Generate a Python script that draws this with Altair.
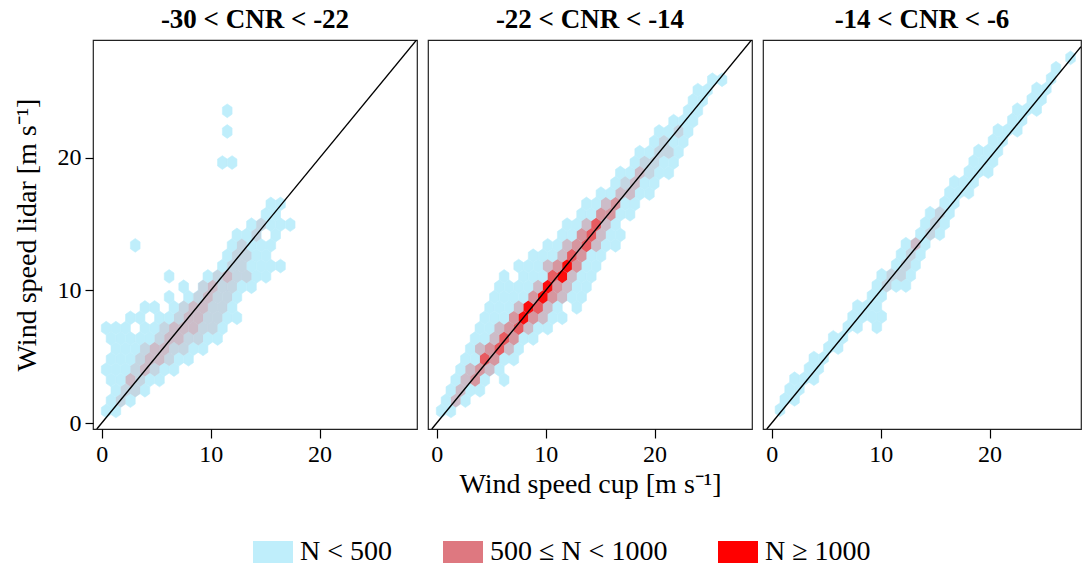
import altair as alt
import pandas as pd

# ---------------- data ----------------
PANEL_TITLES = ["-30 < CNR < -22", "-22 < CNR < -14", "-14 < CNR < -6"]
X_TITLE = "Wind speed cup [m s\u207b\u00b9]"
Y_TITLE = "Wind speed lidar [m s\u207b\u00b9]"
TICKS = [0, 10, 20]

CLASS_LABELS = ["N < 500", "500 \u2264 N < 1000", "N \u2265 1000"]
CLASS_COLORS = ["#BFEEFB", "#DE7880", "#FF0000"]

# hexagon lattice: column spacing / row spacing in m s-1
HEX_DX = 0.889
HEX_DY = 0.781
# lattice origin per panel (x of column 0 on even rows, y of row 0)
ORIGIN_X = [0.41, 0.41, 0.76]
ORIGIN_Y = [0.91, 0.91, 1.0]

# cell shade codes: b = N<500 only; 1-3 = increasing 500<=N<1000; 4-5 = N>=1000
SHADE_CLASS = {"b": 0, "1": 1, "2": 1, "3": 1, "4": 2, "5": 2}
SHADE_ALPHA = {"b": 1.0, "1": 0.2, "2": 0.42, "3": 0.75, "4": 0.62, "5": 0.95}

# rows: (row index, first column index, cells)  '.' = empty
P1_ROWS = [
    (0, 0, "bb"), (1, 0, "b1b"), (2, 1, "b11b"), (3, 0, "bb21bb"),
    (4, 0, "bbb121bb"), (5, 0, "bbb1221bb"), (6, 1, "bbb12211bb"),
    (7, 0, "bbbbb12211bb"), (8, 0, "bbb.bb122211b"), (9, 2, "bb.bb12211bb"),
    (10, 4, "bb.b12211b"), (11, 6, "b.b1211b"), (12, 8, "b.1211bb"),
    (13, 6, "b...b1211bb"), (14, 12, "b11bbbb"), (15, 12, "b11bb"),
    (16, 3, "b.........b1bbb"), (17, 13, "bb1.b"), (18, 15, "b1bbb"),
    (19, 16, "bb"), (20, 17, "bb"), (24, 12, "bb"), (27, 12, "b"), (29, 12, "b"),
]
P2_ROWS = [
    (0, 0, "bb"), (1, 0, "b2b"), (2, 1, "b2bb"), (3, 1, "b23b.b"),
    (4, 2, "b232b"), (5, 2, "bb43bb"), (6, 3, "b2342b"), (7, 3, "bb243bb"),
    (8, 4, "bb2342bb"), (9, 4, "bbb3532bb"), (10, 5, "bbb2542b.b"),
    (11, 5, "bbbb3532bb"), (12, 6, "bbbb2532bb"), (13, 6, "b.bbb452bb"),
    (14, 8, "bbb2353bb"), (15, 9, "bbb243bb"), (16, 11, "bb2342bb"),
    (17, 12, "bb342bb"), (18, 13, "bb242b"), (19, 14, "bb33bb"),
    (20, 15, "bb23bb"), (21, 16, "bb22bb"), (22, 18, "b12bb"),
    (23, 18, "bb21bb"), (24, 20, "b11bb"), (25, 20, "bb11b"),
    (26, 22, "b1bb"), (27, 22, "bb1b"), (28, 24, "bbb"), (29, 25, "bb"),
    (30, 26, "bb"), (31, 26, "bb"), (32, 28, "bb"),
]
P3_ROWS = [
    (0, 0, "b"), (1, 0, "bb"), (2, 1, "bb"), (3, 1, "bbb"), (4, 3, "bb"),
    (5, 3, "bb"), (6, 5, "bb"), (7, 5, "bb"), (8, 7, "bb.b"), (9, 7, "bbbb"),
    (10, 8, "bbb"), (11, 9, "bb"), (12, 10, "b1bb"), (13, 10, "b11b"),
    (14, 12, "b1b"), (15, 12, "b1b"), (16, 13, "b2b"), (17, 14, "b1b"),
    (18, 15, "b1b"), (19, 15, "b1b"), (20, 17, "bb"), (21, 17, "bbb"),
    (22, 18, "bbb"), (23, 19, "bbb"), (24, 20, "bbb"), (25, 20, "bbb"),
    (26, 22, "bb"), (27, 22, "bbb"), (28, 24, "bb"), (29, 24, "bbb"),
    (30, 26, "bb"), (31, 26, "bb"), (32, 28, "b"), (33, 28, "b"), (34, 30, "b"),
]
PANEL_ROWS = [P1_ROWS, P2_ROWS, P3_ROWS]

# ---------------- layout ----------------
WIDTHS = [324, 324, 318]
HEIGHT = 389
PX_PER_X = 10.894
X_MIN = -0.8
Y_DOMAIN = [-0.45, 28.9]
FONT = "Liberation Serif"
HEX_SHAPE = "M0,-1L0.703,-0.5L0.703,0.5L0,1L-0.703,0.5L-0.703,-0.5Z"
HEX_SIZE = 190
RECT_SHAPE = "M-1,-0.55L1,-0.55L1,0.55L-1,0.55Z"


def cells(rows, x0, y0):
    out = []
    for r, start, pat in rows:
        for i, ch in enumerate(pat):
            if ch == ".":
                continue
            m = start + i
            out.append({
                "x": x0 + HEX_DX * m + (HEX_DX / 2 if r % 2 else 0.0),
                "y": y0 + HEX_DY * r,
                "cls": CLASS_LABELS[SHADE_CLASS[ch]],
                "alpha": SHADE_ALPHA[ch],
                "tint": ch != "b",
            })
    return pd.DataFrame(out)


def panel(i):
    df = cells(PANEL_ROWS[i], ORIGIN_X[i], ORIGIN_Y[i])
    tinted = df[df["tint"]].reset_index(drop=True)
    x_dom = [X_MIN, X_MIN + WIDTHS[i] / PX_PER_X]
    xs = alt.Scale(domain=x_dom, nice=False, zero=False)
    ys = alt.Scale(domain=Y_DOMAIN, nice=False, zero=False)
    xax = alt.Axis(values=TICKS, domain=False, grid=False, tickSize=9, tickWidth=1.2,
                   tickColor="black", labelFont=FONT, labelFontSize=24, labelColor="black",
                   labelPadding=4, titleFont=FONT, titleFontSize=28, titleFontWeight="normal",
                   titleColor="black", titlePadding=4)
    yax = alt.Axis(values=TICKS, domain=False, grid=False, tickSize=8, tickWidth=1.2,
                   tickColor="black", labelFont=FONT, labelFontSize=24, labelColor="black",
                   labelPadding=4, titleFont=FONT, titleFontSize=28,
                   titleFontWeight="normal", titleColor="black", titlePadding=16)
    if i == 0:
        yenc = alt.Y("y:Q", scale=ys, axis=yax, title=Y_TITLE)
        yline = alt.Y("v:Q", scale=ys, axis=yax, title=Y_TITLE)
    else:
        yenc = alt.Y("y:Q", scale=ys, axis=None)
        yline = alt.Y("v:Q", scale=ys, axis=None)
    if i == 1:
        xenc = alt.X("x:Q", scale=xs, axis=xax, title=X_TITLE)
        xline = alt.X("v:Q", scale=xs, axis=xax, title=X_TITLE)
    else:
        xenc = alt.X("x:Q", scale=xs, axis=xax, title=None)
        xline = alt.X("v:Q", scale=xs, axis=xax, title=None)

    base = alt.Chart(df).mark_point(
        shape=HEX_SHAPE, size=HEX_SIZE, filled=True, opacity=1,
        fill=CLASS_COLORS[0], stroke=CLASS_COLORS[0], strokeWidth=0.6, clip=True,
    ).encode(x=xenc, y=yenc)

    if i == 0:
        leg = alt.Legend(orient="none", legendX=160, legendY=492, direction="horizontal",
                         title=None, symbolType=RECT_SHAPE, symbolSize=1600,
                         symbolOpacity=1, symbolStrokeWidth=0, labelFont=FONT,
                         labelFontSize=28, labelColor="black", labelOffset=7,
                         labelLimit=500, columnPadding=50, columns=3, padding=0)
        col = alt.Color("cls:N", scale=alt.Scale(domain=CLASS_LABELS, range=CLASS_COLORS),
                        legend=leg)
    else:
        col = alt.Color("cls:N", scale=alt.Scale(domain=CLASS_LABELS, range=CLASS_COLORS),
                        legend=None)
    over = alt.Chart(tinted).mark_point(
        shape=HEX_SHAPE, size=HEX_SIZE, filled=True, strokeWidth=0, clip=True,
    ).encode(x=xenc, y=yenc, color=col, opacity=alt.Opacity("alpha:Q", scale=None))

    # 1:1 line from the bottom edge to where it leaves the panel
    line_df = pd.DataFrame({"v": [Y_DOMAIN[0], min(x_dom[1], Y_DOMAIN[1])]})
    line = alt.Chart(line_df).mark_line(color="black", strokeWidth=1.4, clip=True).encode(
        x=xline, y=yline,
    )
    return alt.layer(base, over, line).properties(
        width=WIDTHS[i], height=HEIGHT,
        title=alt.Title(PANEL_TITLES[i], font=FONT, fontSize=27, fontWeight="bold",
                        color="black", anchor="middle", baseline="bottom", offset=-21),
    )


chart = alt.hconcat(panel(0), panel(1), panel(2), spacing=11, bounds="flush").resolve_scale(
    color="independent"
).properties(
    padding={"left": 12, "top": 5, "right": 0, "bottom": 0}
).configure_view(stroke="#222222", strokeWidth=1.2)

chart.save("out.html", embed_options={"renderer": "svg", "actions": False})
